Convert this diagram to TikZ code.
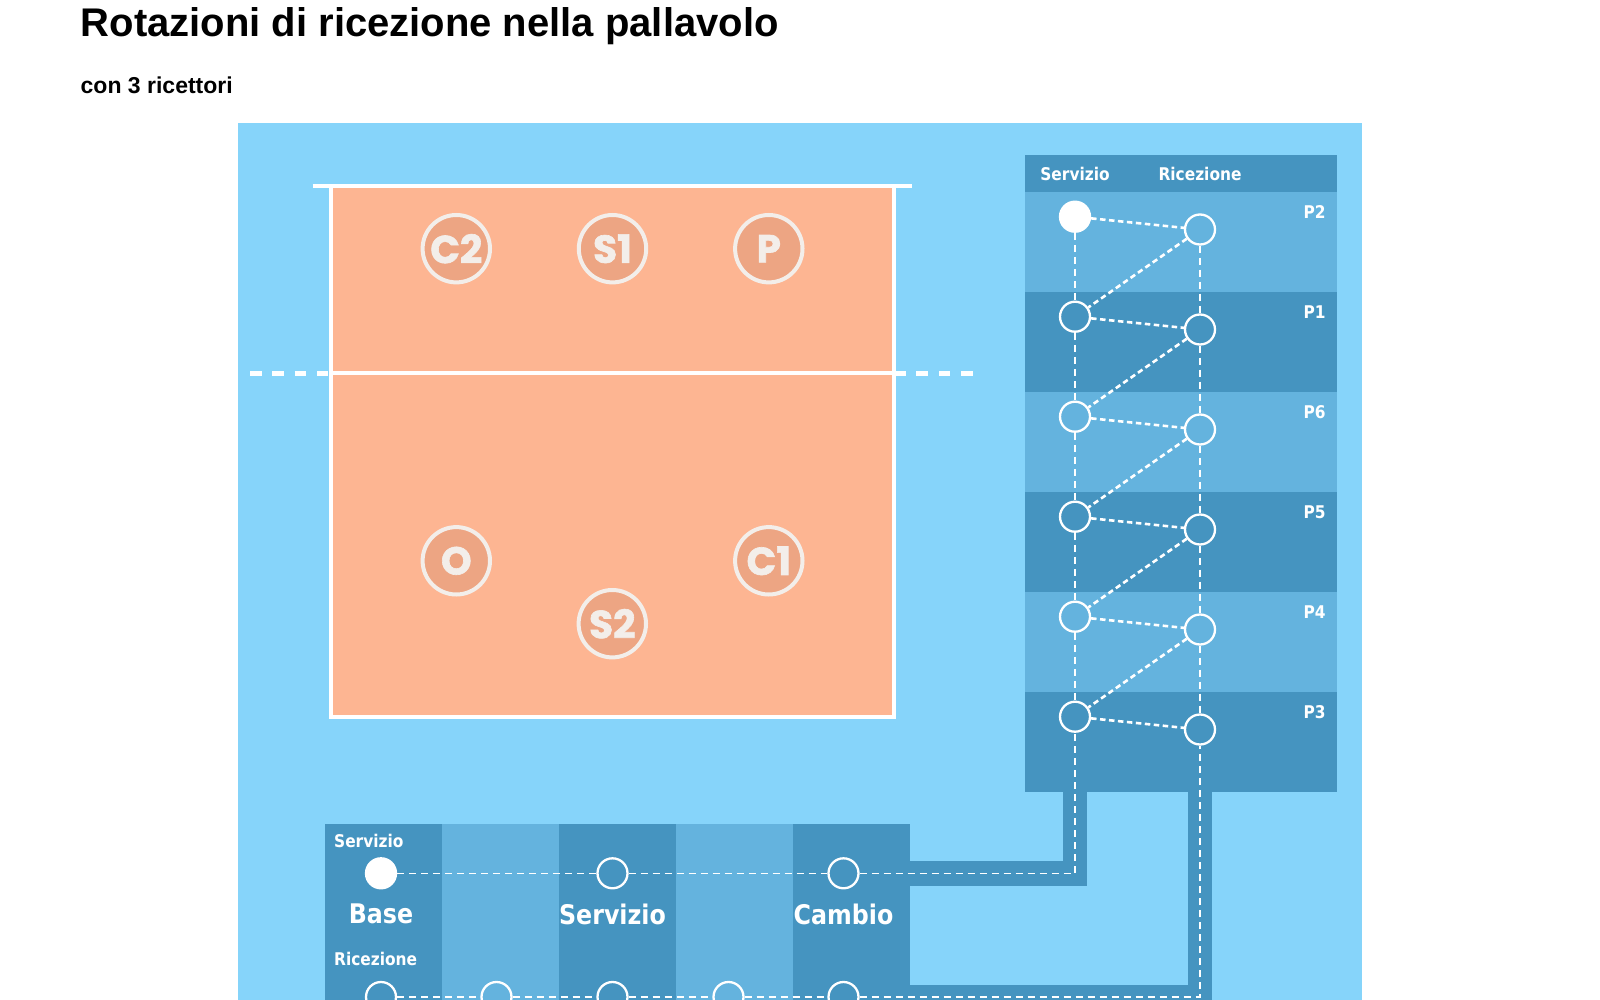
\documentclass[tikz,border=0pt]{standalone}
\usepackage{fontspec}
\setmainfont{Liberation Sans}
\newfontfamily\dvb{DejaVu Sans}[FakeStretch=0.88]
\newfontfamily\pop{Poppins}[BoldFeatures={FakeBold=1.6}]
\definecolor{bgsky}{HTML}{86D4FA}
\definecolor{dkblue}{HTML}{4594C0}
\definecolor{mdblue}{HTML}{64B3DE}
\definecolor{court}{HTML}{FDB592}
\definecolor{plfill}{HTML}{EDA583}
\definecolor{plbord}{HTML}{F3EEEA}
\tikzset{
  player/.style={circle, draw=plbord, line width=4pt, fill=plfill, minimum size=67.4pt, inner sep=0pt,
    text=plbord, font=\pop\bfseries\fontsize{39}{39}\selectfont},
  ring/.style={circle, draw=white, line width=2.3pt, minimum size=30pt, inner sep=0pt},
  ringfull/.style={ring, fill=white},
  thindash/.style={draw=white, line width=1.3pt, dash pattern=on 7pt off 5pt},
  linkdash/.style={draw=white, line width=2.6pt, dash pattern=on 5.5pt off 3.5pt},
  smalllbl/.style={text=white, inner sep=0pt, font=\dvb\bfseries\fontsize{17.5}{17.5}\selectfont},
  biglbl/.style={text=white, inner sep=0pt, font=\dvb\bfseries\fontsize{27}{27}\selectfont},
  bar/.style={draw=dkblue, line width=24.5pt},
}
\begin{document}
\begin{tikzpicture}[x=1pt,y=-1pt]
\useasboundingbox (0,0) rectangle (1600,1000);
\clip (0,0) rectangle (1600,1000);
% titles
\node[anchor=base west, inner sep=0pt, font=\bfseries\fontsize{40}{40}\selectfont] (title) at (80.5,37) {Rotazioni di ricezione nella pallavolo};
\node[anchor=base west, inner sep=0pt, font=\bfseries\fontsize{23}{23}\selectfont] (sub) at (80.5,94) {con 3 ricettori};
% background
\fill[bgsky] (238,123.5) rectangle (1362,1010);
% court
\filldraw[fill=court, draw=white, line width=4pt] (331,186) rectangle (893.7,717);
\draw[white, line width=4.5pt] (312.5,186) -- (912.3,186);
\draw[white, line width=4pt] (331,373.3) -- (893.7,373.3);
\draw[white, line width=4.5pt, dash pattern=on 11.5pt off 10.8pt] (250,373.3) -- (331,373.3);
\draw[white, line width=4.5pt, dash pattern=on 11.5pt off 10.8pt] (972.5,373.3) -- (893.7,373.3);
% players
\node[player] (pc2) at (456.3,248.7) {C2};
\node[player] (ps1) at (612.5,248.7) {S1};
\node[player] (pp)  at (768.8,248.7) {P};
\node[player] (po)  at (456.3,560.8) {O};
\node[player] (pc1) at (768.8,560.8) {C1};
\node[player] (ps2) at (612.3,623.7) {S2};
% connector bars
\draw[bar] (909,873.3) -- (1075,873.3) -- (1075,785);
\draw[bar] (909,997.5) -- (1200,997.5) -- (1200,785);
% right panel
\fill[dkblue] (1025,155) rectangle (1337,192.3);
\foreach \i in {0,2,4} {
  \fill[mdblue] (1025,{192.3+100*\i}) rectangle (1337,{292.3+100*\i});
  \fill[dkblue] (1025,{292.3+100*\i}) rectangle (1337,{392.3+100*\i});
}
\node[smalllbl] (hs) at (1075,174) {Servizio};
\node[smalllbl] (hr) at (1200,174) {Ricezione};
\foreach \i/\t in {1/P2,2/P1,3/P6,4/P5,5/P4,6/P3} {
  \node[smalllbl] (lab\i) at (1314.5,{112.3+100*\i}) {\t};
}
\node[ringfull] (s1) at (1075,216.7) {};
\foreach \i in {2,...,6} { \node[ring] (s\i) at (1075,{116.7+100*\i}) {}; }
\foreach \i in {1,...,6} { \node[ring] (r\i) at (1200,{129.5+100*\i}) {}; }
\foreach \i/\j in {1/2,2/3,3/4,4/5,5/6} {
  \draw[thindash] (s\i) -- (s\j);
  \draw[thindash] (r\i) -- (r\j);
  \draw[linkdash] (r\i) -- (s\j);
}
\foreach \i in {1,...,6} { \draw[linkdash] (s\i) -- (r\i); }
% bottom panel
\foreach \k in {0,2,4} { \fill[dkblue] ({324.5+117.1*\k},824) rectangle ({441.6+117.1*\k},1010); }
\foreach \k in {1,3} { \fill[mdblue] ({324.5+117.1*\k},824) rectangle ({441.6+117.1*\k},1010); }
\node[smalllbl, anchor=west] (bs) at (334,841) {Servizio};
\node[smalllbl, anchor=west] (br) at (334,959) {Ricezione};
\node[biglbl] (lb) at (381,914) {Base};
\node[biglbl] (ls) at (612.5,914) {Servizio};
\node[biglbl] (lc) at (843.5,914) {Cambio};
\node[ringfull] (b0) at (381,873.3) {};
\node[ring] (b1) at (612.5,873.3) {};
\node[ring] (b2) at (843.5,873.3) {};
\node[ring] (c1) at (381,997) {};
\node[ring] (c2) at (496.5,997) {};
\node[ring] (c3) at (612.5,997) {};
\node[ring] (c4) at (728.5,997) {};
\node[ring] (c5) at (843.5,997) {};
\coordinate (sc) at (1075,873.3);
\coordinate (rc) at (1200,997);
\draw[thindash] (b0) -- (b1);
\draw[thindash] (b1) -- (b2);
\draw[thindash] (b2) -- (sc) -- (s6);
\draw[thindash] (c1) -- (c2);
\draw[thindash] (c2) -- (c3);
\draw[thindash] (c3) -- (c4);
\draw[thindash] (c4) -- (c5);
\draw[thindash] (c5) -- (rc) -- (r6);
\end{tikzpicture}
\end{document}
